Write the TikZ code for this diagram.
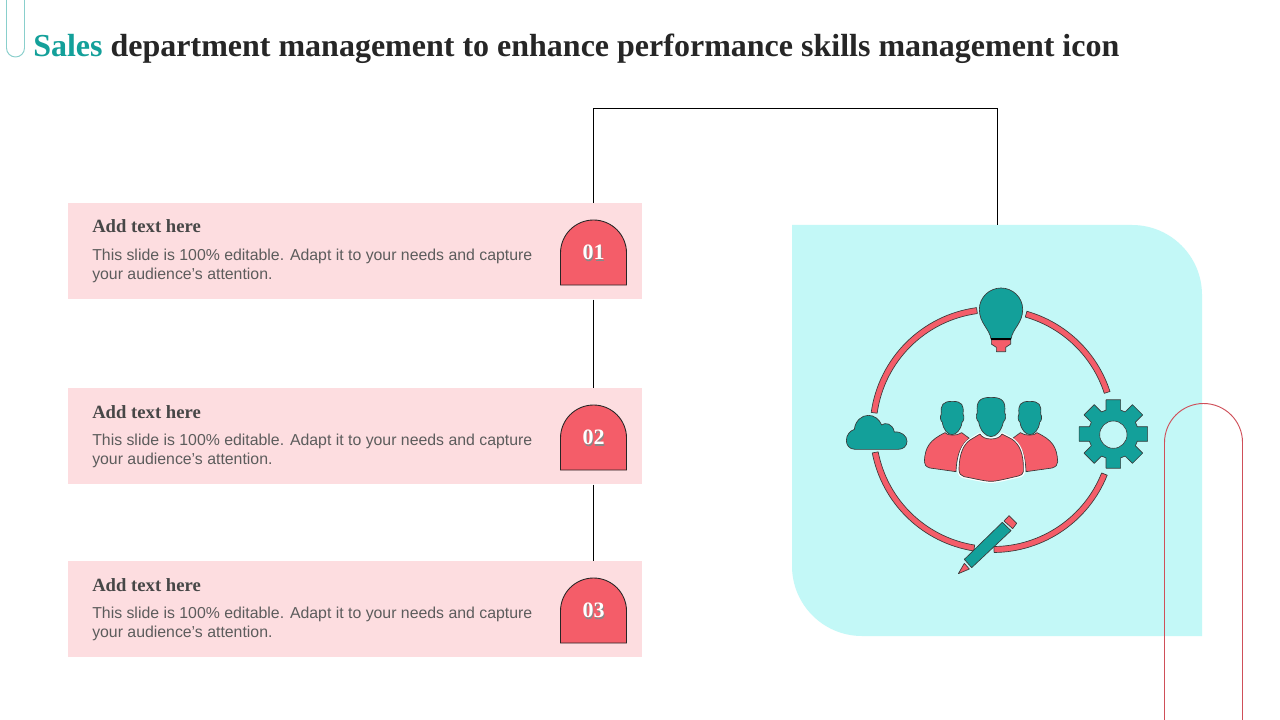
\documentclass[tikz,border=0pt]{standalone}
\usepackage{fontspec}
\setmainfont{Liberation Serif}
\newfontfamily\bodyfont{Liberation Sans}
\definecolor{teal1}{HTML}{13A09A}
\definecolor{ink}{HTML}{262626}
\definecolor{cardpink}{HTML}{FDDDE0}
\definecolor{coral}{HTML}{F45D69}
\definecolor{panelaqua}{HTML}{C3F8F7}
\definecolor{edge}{HTML}{3A3A3A}
\tikzset{
  cardbox/.style={fill=cardpink,draw=none,inner sep=0pt,minimum width=430.5pt,minimum height=72pt,anchor=north west},
  headtext/.style={anchor=base west,inner sep=0pt,font=\fontsize{14}{16}\selectfont\bfseries,text=ink!85},
  bodytext/.style={anchor=base west,inner sep=0pt,font=\bodyfont\fontsize{11.88}{14}\selectfont,text=ink!75},
  numtext/.style={inner sep=0pt,font=\fontsize{16.5}{18}\selectfont\bfseries,text=white},
  numshadow/.style={inner sep=0pt,font=\fontsize{16.5}{18}\selectfont\bfseries,text=ink!55},
  badgeshape/.style={fill=coral,draw=ink,line width=.65pt},
  wire/.style={draw=black,line width=.6pt},
  tealicon/.style={fill=teal1,draw=edge,line width=.5pt,line join=round},
  coralicon/.style={fill=coral,draw=edge,line width=.5pt,line join=round},
  personcoral/.style={fill=coral,draw=edge,line width=.5pt,line join=round},
}
\newcommand{\ringarc}[2]{%
  \path[coralicon] (993,429.5) ++(-#1:123) arc[start angle=-#1,end angle=-#2,radius=123]
    -- ++(-#2:-6) arc[start angle=-#2,end angle=-#1,radius=117] -- cycle;}
\newcommand{\cardrow}[3]{%
  \node[cardbox] (card#1) at (68,#2) {};
  \path[badgeshape] (560.5,#2+82) -- (560.5,#2+50) arc[start angle=180,end angle=360,radius=33] -- (626.5,#2+82) -- cycle;
  \coordinate (badge#1) at (593.5,#2+50);
  \node[numshadow] (numb#1) at (594.3,#2+50.8) {#3};
  \node[numtext] (num#1) at (593.5,#2+49.5) {#3};
  \node[headtext] (head#1) at (92,#2+30) {Add text here};
  \node[bodytext] (lineA#1) at (92,#2+57.5) {This slide is 100\% editable. Adapt it to your needs and capture};
  \node[bodytext] (lineB#1) at (92,#2+76.5) {your audience’s attention.};
}
\begin{document}
\begin{tikzpicture}[x=.75pt,y=-.75pt]
\useasboundingbox (0,0) rectangle (1280,720);
\fill[white] (0,0) rectangle (1280,720);
% corner decoration
\draw[draw=teal1!50,line width=.7pt] (6.5,0) -- (6.5,48) arc[start angle=180,end angle=0,radius=9] -- (24.5,0);
\node[anchor=base west,inner sep=0pt,font=\fontsize{24}{28}\selectfont\bfseries,text=ink] (title) at (33,56.8)
  {\textcolor{teal1}{Sales} department management to enhance performance skills management icon};
% panel
\fill[panelaqua] (792,225) -- (1132,225) arc[start angle=270,end angle=360,radius=70] -- (1202,636) -- (862,636) arc[start angle=90,end angle=180,radius=70] -- cycle;
\coordinate (panelTop) at (997,225);
% right decoration
\draw[draw=coral!85!black,line width=.7pt] (1164.5,720) -- (1164.5,442.5) arc[start angle=180,end angle=360,radius=39] -- (1242.5,720);
% cards
\cardrow{1}{203}{01}
\cardrow{2}{388}{02}
\cardrow{3}{561}{03}
% connectors
\coordinate (bendA) at (badge1 |- 0,108);
\coordinate (bendB) at (panelTop |- 0,108);
\draw[wire] (card1.north -| badge1) -- (bendA) -- (bendB) -- (panelTop);
\draw[wire] (card1.south -| badge1) -- (card2.north -| badge2);
\draw[wire] (card2.south -| badge2) -- (card3.north -| badge3);
% ring
\ringarc{97.7}{172}
\ringarc{74}{18}
\ringarc{-21.8}{-89.5}
\ringarc{261}{191}
% icons
\begin{scope}[shift={(830,270)},x=.25pt,y=-.25pt]
  % bulb
  \path[tealicon] (483,207) .. controls (478,175) and (448,160) .. (448,118)
     .. controls (448,82) and (478,54) .. (513,54) .. controls (548,54) and (578,82) .. (578,118)
     .. controls (578,160) and (548,175) .. (543,207) -- cycle;
  \path[coralicon] (484,209) -- (542,209) -- (542,222) -- (527,232) -- (527,245) -- (499,245) -- (499,232) -- (484,222) -- cycle;
  \draw[black,line width=1pt] (484,207) -- (542,207);
  % gear
  \path[tealicon] ([shift={(850,492)}]-17:75)
    \foreach \a in {0,45,...,315}{ -- ([shift={(850,492)}]\a-17:75) -- ([shift={(850,492)}]\a-12:105) -- ([shift={(850,492)}]\a+12:105) -- ([shift={(850,492)}]\a+17:75)} -- cycle;
  \path[fill=panelaqua,draw=edge,line width=.45pt] (850,494) circle[radius=41];
  % cloud
  \path[tealicon] (75,538) .. controls (58,538) and (49,525) .. (49,512) .. controls (49,495) and (60,482) .. (73,478)
    .. controls (76,452) and (95,436) .. (115,436) .. controls (133,436) and (148,448) .. (155,465)
    .. controls (165,456) and (188,460) .. (193,486) .. controls (215,484) and (231,498) .. (231,514)
    .. controls (231,528) and (220,538) .. (205,538) -- cycle;
  % people: side figures
  \foreach \sh/\sx in {0/1,966/-1}{
  \begin{scope}[shift={(\sh,0)},xscale=\sx]
    \path[personcoral] (345,488) .. controls (352,498) and (382,498) .. (395,488) -- (418,505)
       .. controls (395,522) and (380,550) .. (378,605) -- (300,594)
       .. controls (288,590) and (283,585) .. (283,575) .. controls (285,530) and (300,510) .. (345,488) -- cycle;
    \path[tealicon] (334,432) .. controls (331,405) and (338,394) .. (367,394) .. controls (396,394) and (402,405) .. (399,432)
       .. controls (404,440) and (402,452) .. (396,457) .. controls (393,480) and (378,494) .. (366,494)
       .. controls (354,494) and (340,480) .. (337,457) .. controls (331,452) and (329,440) .. (334,432) -- cycle;
  \end{scope}}
  % people: centre figure
  \path[personcoral,draw=white,line width=1.4pt] (450,490) .. controls (460,510) and (506,510) .. (516,490)
     -- (545,505) .. controls (570,520) and (584,550) .. (582,605) .. controls (581,615) and (575,618) .. (565,620)
     .. controls (530,628) and (500,636) .. (483,636) .. controls (465,636) and (435,628) .. (402,622)
     .. controls (392,620) and (385,612) .. (385,600) .. controls (385,550) and (400,520) .. (420,508) -- cycle;
  \path[personcoral] (450,492) .. controls (460,512) and (506,512) .. (516,492)
     -- (545,507) .. controls (568,522) and (582,550) .. (580,605) .. controls (579,613) and (573,616) .. (565,618)
     .. controls (530,626) and (500,634) .. (483,634) .. controls (465,634) and (435,626) .. (402,620)
     .. controls (393,618) and (387,610) .. (387,600) .. controls (387,550) and (402,522) .. (420,510) -- cycle;
  \path[tealicon] (442,428) .. controls (438,395) and (448,382) .. (483,382) .. controls (518,382) and (528,395) .. (524,428)
     .. controls (530,436) and (527,450) .. (520,456) .. controls (515,482) and (498,500) .. (483,500)
     .. controls (468,500) and (450,482) .. (446,456) .. controls (439,450) and (436,436) .. (442,428) -- cycle;
  % pencil
  \path[coralicon] (537,737) -- (560,760) -- (548,776) -- (522,753) -- cycle;
  \path[tealicon] (517,757) -- (543,782) -- (425,893) -- (403,868) -- cycle;
  \path[coralicon] (403,880) -- (418,897) -- (385,911) -- cycle;
\end{scope}
\end{tikzpicture}
\end{document}
